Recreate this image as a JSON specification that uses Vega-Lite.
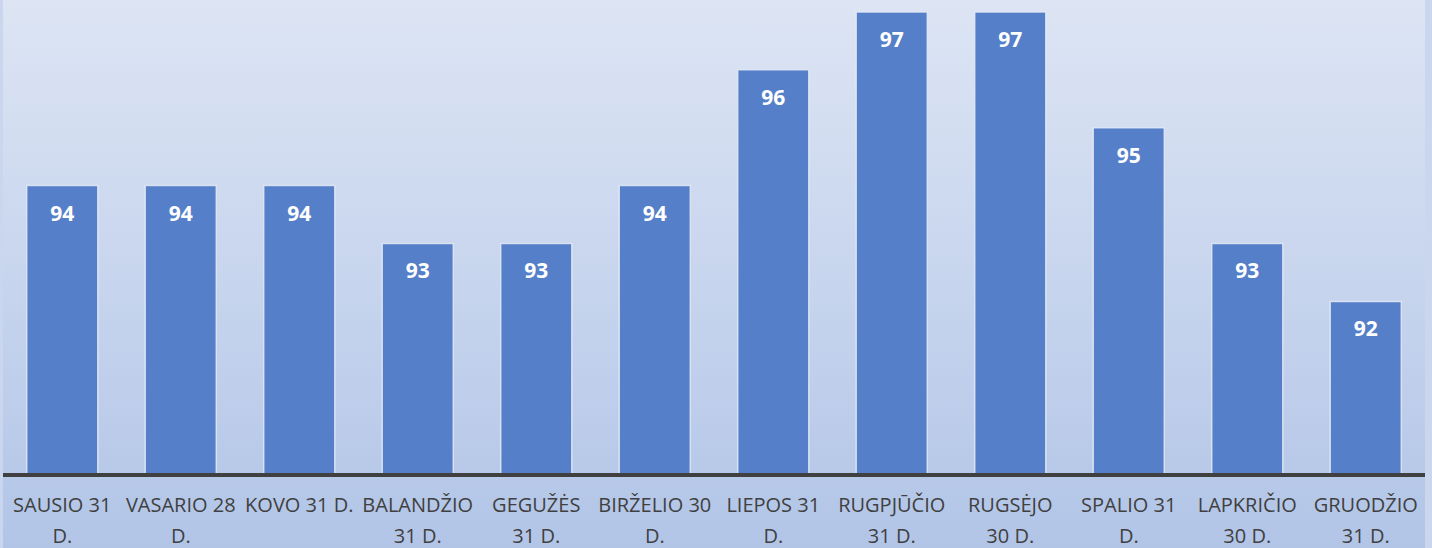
{
  "$schema": "https://vega.github.io/schema/vega-lite/v6.json",
  "autosize": {"type": "none"},
  "width": 1422,
  "height": 548,
  "padding": {"left": 3, "right": 7, "top": 0, "bottom": 0},
  "background": "#c9d6ee",
  "config": {
    "view": {
      "stroke": null,
      "fill": {
        "gradient": "linear", "x1": 0, "y1": 0, "x2": 0, "y2": 1,
        "stops": [{"offset": 0, "color": "#dde5f4"}, {"offset": 1, "color": "#b2c5e7"}]
      }
    }
  },
  "data": {
    "values": [
      {"m": "SAUSIO 31|D.", "v": 94},
      {"m": "VASARIO 28|D.", "v": 94},
      {"m": "KOVO 31 D.", "v": 94},
      {"m": "BALANDŽIO|31 D.", "v": 93},
      {"m": "GEGUŽĖS|31 D.", "v": 93},
      {"m": "BIRŽELIO 30|D.", "v": 94},
      {"m": "LIEPOS 31|D.", "v": 96},
      {"m": "RUGPJŪČIO|31 D.", "v": 97},
      {"m": "RUGSĖJO|30 D.", "v": 97},
      {"m": "SPALIO 31|D.", "v": 95},
      {"m": "LAPKRIČIO|30 D.", "v": 93},
      {"m": "GRUODŽIO|31 D.", "v": 92}
    ]
  },
  "layer": [
    {
      "mark": {"type": "bar", "color": "#5580c9", "stroke": "#e4eaf6", "strokeWidth": 1.5, "strokeOpacity": 0.85},
      "encoding": {
        "x": {"field": "m", "type": "nominal", "sort": null, "axis": null,
              "scale": {"paddingInner": 0.4, "paddingOuter": 0.2}},
        "y": {"field": "v", "type": "quantitative", "axis": null,
              "scale": {"domain": [87.739, 97.207], "zero": false, "nice": false}},
        "y2": {"datum": 89}
      }
    },
    {
      "mark": {"type": "text", "color": "white", "font": "Open Sans", "fontWeight": "bold", "fontSize": 21, "baseline": "middle", "dy": 29},
      "encoding": {
        "x": {"field": "m", "type": "nominal", "sort": null},
        "y": {"field": "v", "type": "quantitative"},
        "text": {"field": "v", "type": "quantitative"}
      }
    },
    {
      "mark": {"type": "rule", "color": "#404040", "strokeWidth": 3},
      "encoding": {"y": {"datum": 89}}
    },
    {
      "mark": {"type": "text", "color": "#404040", "font": "Open Sans", "fontSize": 20, "baseline": "top", "lineBreak": "|", "lineHeight": 31},
      "encoding": {
        "x": {"field": "m", "type": "nominal", "sort": null},
        "y": {"datum": 88.63},
        "text": {"field": "m", "type": "nominal"}
      }
    }
  ]
}
